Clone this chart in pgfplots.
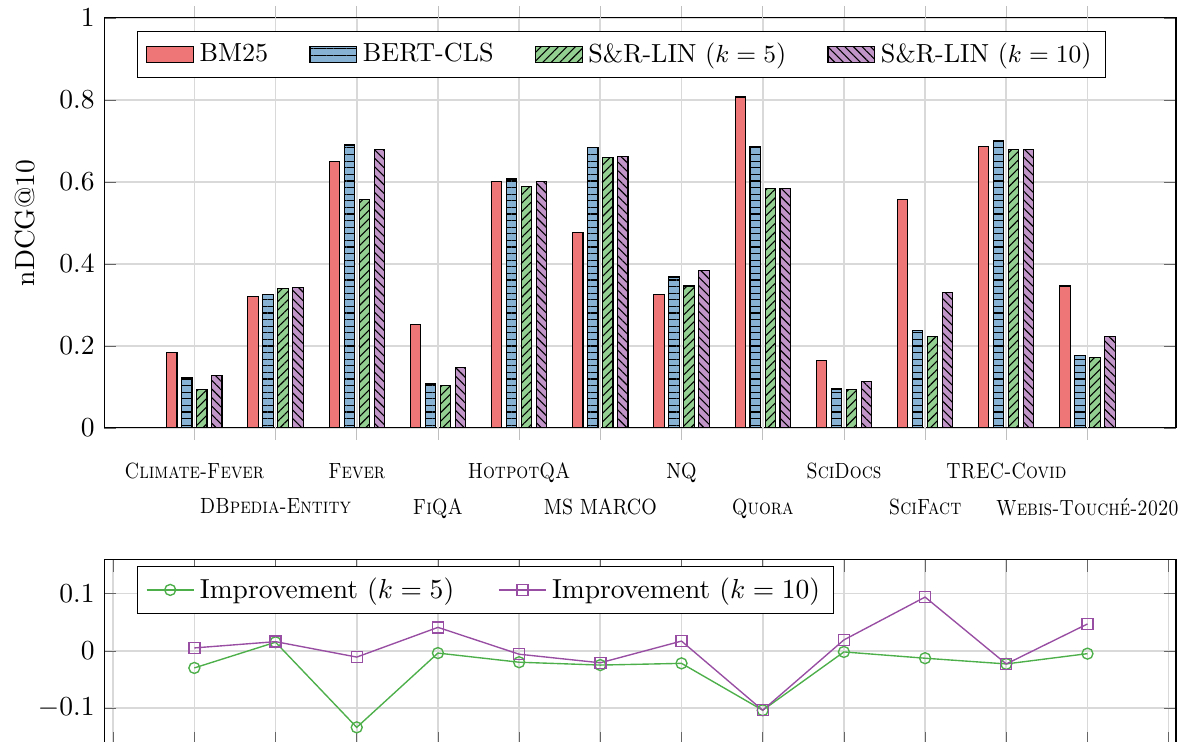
\documentclass[border=0pt]{standalone}
\usepackage{fontspec}
\usepackage{graphicx}
\usepackage{pgfplots}
\pgfplotsset{compat=1.18}
\usetikzlibrary{patterns.meta}
\definecolor{sred}{RGB}{228,26,28}
\definecolor{sblue}{RGB}{55,126,184}
\definecolor{sgreen}{RGB}{77,175,74}
\definecolor{spurple}{RGB}{152,78,163}
\newcommand{\lab}[1]{\scalebox{0.85}[1]{#1}}

\pgfplotstableread{
x bm25 bert srk5 srk10
0 0.185 0.122 0.093 0.127
1 0.320 0.326 0.340 0.342
2 0.649 0.690 0.557 0.680
3 0.252 0.107 0.104 0.148
4 0.602 0.607 0.588 0.600
5 0.476 0.684 0.659 0.662
6 0.325 0.368 0.346 0.384
7 0.807 0.687 0.583 0.583
8 0.165 0.095 0.093 0.114
9 0.556 0.237 0.224 0.331
10 0.687 0.702 0.679 0.679
11 0.346 0.177 0.172 0.224
}\bars

\pgfplotstableread{
x k5 k10
0 -0.030 0.005
1 0.015 0.016
2 -0.134 -0.011
3 -0.004 0.041
4 -0.020 -0.006
5 -0.025 -0.021
6 -0.022 0.017
7 -0.104 -0.104
8 -0.002 0.019
9 -0.013 0.094
10 -0.023 -0.023
11 -0.005 0.047
}\imp

\pgfplotsset{
  every axis/.append style={
    grid=major,
    grid style={gray!30, line width=0.6pt},
    tick style={black!60},
  },
}

\begin{document}
\begin{tikzpicture}
\begin{axis}[
  name=top, at={(0,0)}, anchor=south west,
  width=389.7pt, height=149.1pt, scale only axis,
  ybar, bar width=3.75pt,
  xmin=-1.11, xmax=12.09, ymin=0, ymax=1,
  ytick={0,0.2,0.4,0.6,0.8,1},
  xtick={0,2,4,6,8,10},
  xticklabels={\lab{\textsc{Climate-Fever}},\lab{\textsc{Fever}},\lab{\textsc{HotpotQA}},\lab{NQ},\lab{\textsc{SciDocs}},\lab{\textsc{TREC-Covid}}},
  extra x ticks={1,3,5,7,9,11},
  extra x tick labels={\lab{\textsc{DBpedia-Entity}},\lab{\textsc{FiQA}},\lab{MS MARCO},\lab{\textsc{Quora}},\lab{\textsc{SciFact}},\lab{\textsc{Webis-Touché-2020}}},
  extra x tick style={grid=major, xticklabel style={yshift=-13pt}},
  xticklabel style={font=\footnotesize, yshift=-5pt},
  xtick align=outside,
  xtick style={gray!50},
  ylabel={nDCG@10},
  ylabel shift=2pt,
  legend columns=4,
  legend style={at={(rel axis cs:0.0308,0.968)}, anchor=north west, draw=black, fill=white,
    font=\fontsize{9.5pt}{11pt}\selectfont,
    /tikz/every even column/.append style={column sep=13pt}},
]
\addplot[draw=black, fill=sred!60, bar shift=-8.18pt, area legend] table[x=x,y=bm25]{\bars};
\addplot[draw=black, fill=sblue!60, bar shift=-2.73pt, area legend,
  postaction={pattern={Lines[angle=0,distance=2.4pt,line width=0.4pt]}}] table[x=x,y=bert]{\bars};
\addplot[draw=black, fill=sgreen!60, bar shift=2.73pt, area legend,
  postaction={pattern={Lines[angle=45,distance=2.2pt,line width=0.4pt]}}] table[x=x,y=srk5]{\bars};
\addplot[draw=black, fill=spurple!60, bar shift=8.18pt, area legend,
  postaction={pattern={Lines[angle=-45,distance=2.2pt,line width=0.4pt]}}] table[x=x,y=srk10]{\bars};
\legend{BM25, BERT-CLS, S\&R-LIN ($k=5$), S\&R-LIN ($k=10$)}
\end{axis}

\begin{axis}[
  at={(0,-48pt)}, anchor=north west,
  width=389.7pt, height=66.7pt, scale only axis,
  xmin=-1.11, xmax=12.09, ymin=-0.162, ymax=0.159,
  xtick={-1,0,1,2,3,4,5,6,7,8,9,10,11,12}, xticklabels={},
  ytick={-0.1,0,0.1},
  legend columns=2,
  legend style={at={(rel axis cs:0.0308,0.967)}, anchor=north west, draw=black, fill=white,
    /tikz/every even column/.append style={column sep=14pt}},
]
\addplot[sgreen, line width=0.5pt, mark=o, mark options={solid}] table[x=x,y=k5]{\imp};
\addplot[spurple, line width=0.5pt, mark=square, mark options={solid}] table[x=x,y=k10]{\imp};
\legend{Improvement ($k=5$), Improvement ($k=10$)}
\end{axis}
\pgfresetboundingbox
\useasboundingbox (-37.9pt,-114.2pt) rectangle (390.8pt,155.6pt);
\end{tikzpicture}
\end{document}
